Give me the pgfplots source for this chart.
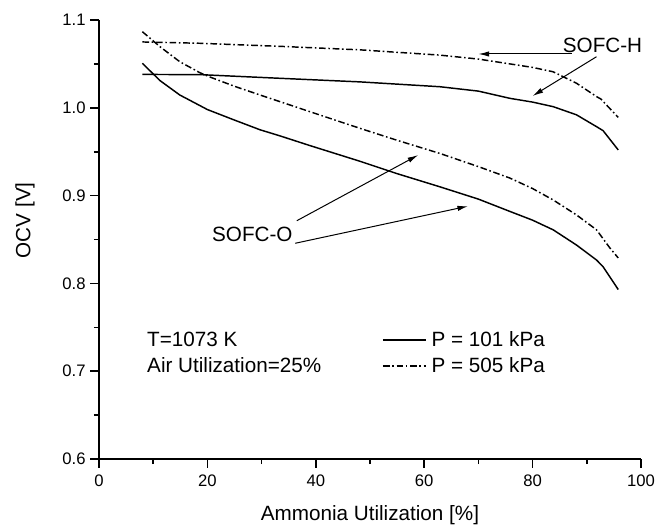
\documentclass[border=0pt]{standalone}
\usepackage{fontspec}
\setmainfont{Liberation Sans}
\usepackage{pgfplots}
\pgfplotsset{compat=1.18}
\usetikzlibrary{arrows.meta}

\tikzset{
  dashdot/.style={dash pattern=on 5pt off 2pt on 1.2pt off 2pt},
  note/.style={font=\fontsize{15.5}{18}\selectfont, inner sep=0pt},
  pointer/.style={line width=0.75pt, -{Latex[length=8pt,width=4pt]}},
}

\begin{document}
\begin{tikzpicture}
\useasboundingbox (-74.25pt,-49.5pt) rectangle (429pt,344.25pt);
\begin{axis}[
    at={(0,0)}, anchor=south west,
    scale only axis,
    width=406.5pt, height=329.25pt,
    xmin=0, xmax=100, ymin=0.6, ymax=1.1,
    axis x line*=bottom, axis y line*=left,
    axis line style={line width=1.4pt, -},
    xtick={0,20,...,100}, minor xtick={10,30,...,90},
    ytick={0.6,0.7,...,1.1}, minor ytick={0.65,0.75,...,1.05},
    tick align=outside,
    major tick length=6.5pt, minor tick length=3.75pt,
    every tick/.style={line width=1.2pt, black},
    /pgf/number format/assume math mode=true,
    /pgf/number format/fixed, /pgf/number format/fixed zerofill,
    yticklabel style={/pgf/number format/precision=1},
    xticklabel style={/pgf/number format/precision=0, yshift=-2pt},
    ticklabel style={font=\fontsize{12.5}{14}\selectfont},
    xlabel={Ammonia Utilization [\%]},
    ylabel={OCV [V]},
    every axis x label/.style={at={(axis description cs:0.5,-0.139)}, anchor=base,
        font=\fontsize{15.5}{18}\selectfont},
    every axis y label/.style={at={(axis description cs:-0.1365,0.544)}, rotate=90,
        anchor=center, font=\fontsize{15.5}{18}\selectfont},
    clip=false,
    legend style={at={(axis cs:52.2,0.7207)}, anchor=west, draw=none, fill=none,
        inner sep=0pt, row sep=3.5pt, font=\fontsize{15.5}{18}\selectfont,
        nodes={inner sep=1.5pt}},
    legend cell align=left,
    legend image code/.code={\draw[#1] (0pt,0pt) -- (32pt,0pt);},
]
% SOFC-H, 101 kPa
\addplot[black, line width=1.1pt] coordinates {
  (8,1.038) (18.6,1.0378) (33.4,1.0336) (48.2,1.0295) (62.9,1.024)
  (70,1.019) (75.8,1.0108) (80,1.0065) (83.8,1.0013) (88.1,0.992)
  (91.8,0.9785) (93,0.974) (95.8,0.952)
};
\addlegendentry{\hspace{2.5pt}P = 101 kPa}
% SOFC-H, 505 kPa
\addplot[black, line width=1.1pt, dashdot] coordinates {
  (8,1.075) (18.6,1.0735) (33.4,1.070) (48.2,1.066) (62.9,1.060)
  (70,1.0555) (75.8,1.050) (80,1.046) (83.8,1.041) (88.1,1.028)
  (91.8,1.0127) (92.6,1.010) (95.8,0.989)
};
\addlegendentry{\hspace{2.5pt}P = 505 kPa}
% SOFC-O, 101 kPa
\addplot[black, line width=1.1pt, forget plot] coordinates {
  (8,1.0507) (11.25,1.031) (14.9,1.0146) (20,0.998) (25,0.986)
  (29.7,0.975) (33.4,0.968) (38.9,0.957) (48.2,0.939) (55,0.925)
  (62.9,0.910) (70,0.896) (75.8,0.882) (80,0.872) (83.8,0.861)
  (88.1,0.8437) (91.8,0.8266) (93,0.819) (95.8,0.793)
};
% SOFC-O, 505 kPa
\addplot[black, line width=1.1pt, dashdot, forget plot] coordinates {
  (8,1.0867) (11.25,1.0696) (14.9,1.0525) (18.6,1.040) (20.5,1.035)
  (25,1.0245) (29.7,1.0146) (33.4,1.007) (38.9,0.9956) (48.2,0.9765)
  (55,0.963) (62.9,0.948) (70,0.933) (75.8,0.920) (80,0.908)
  (83.8,0.895) (88.1,0.878) (91.8,0.861) (94.3,0.840) (95.8,0.829)
};

\node[note] at (axis cs:92.9,1.0715) {SOFC-H};
\draw[pointer] (axis cs:87.2,1.0613) -- (axis cs:70.0,1.0613);
\draw[pointer] (axis cs:91.8,1.0582) -- (axis cs:80.0,1.0135);
\node[note] at (axis cs:28.3,0.8557) {SOFC-O};
\draw[pointer] (axis cs:36.5,0.8714) -- (axis cs:58.9,0.9462);
\draw[pointer] (axis cs:36.2,0.8457) -- (axis cs:68.1,0.888);
\node[note, anchor=base west] at (axis cs:8.85,0.7276) {T=1073 K};
\node[note, anchor=base west] at (axis cs:8.85,0.699) {Air Utilization=25\%};
\end{axis}
\end{tikzpicture}
\end{document}
